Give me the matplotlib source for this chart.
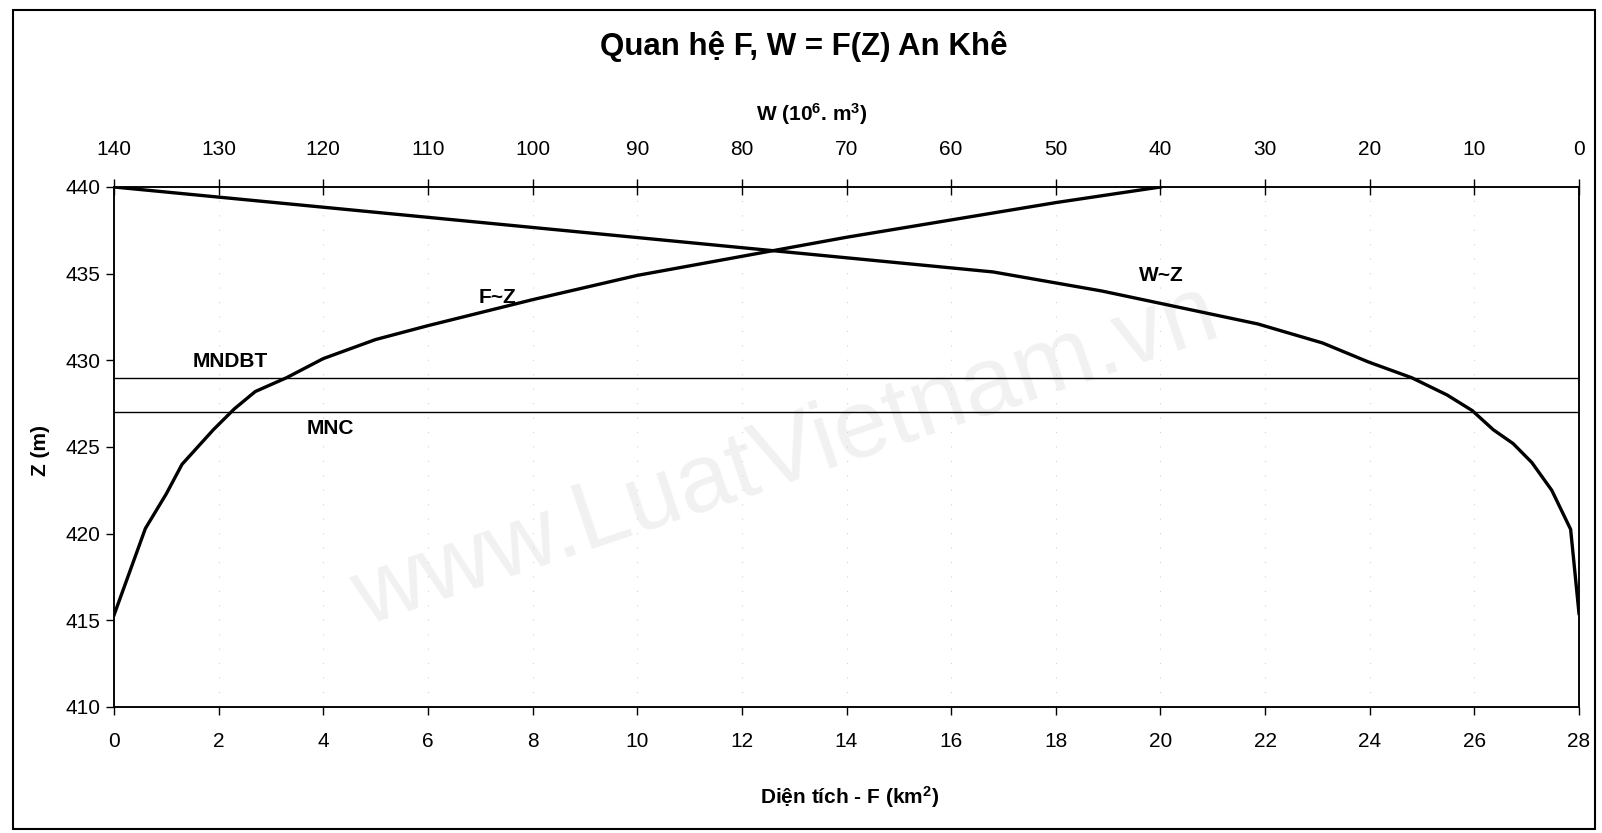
import matplotlib
matplotlib.use("Agg")
import matplotlib.pyplot as plt
from matplotlib.patches import Rectangle

plt.rcParams['font.family'] = ['Liberation Sans', 'DejaVu Sans']
plt.rcParams['mathtext.fontset'] = 'custom'
plt.rcParams['mathtext.bf'] = 'Liberation Sans:bold'
plt.rcParams['mathtext.rm'] = 'Liberation Sans:bold'
plt.rcParams['mathtext.default'] = 'bf'

# ---- data ----
# F ~ Z (area, km2 vs level, m)
F_area = [0.0, 0.3, 0.6, 1.0, 1.3, 1.9, 2.3, 2.7, 3.3, 4.0, 5.0, 6.0, 8.0, 10.0, 12.0, 14.0, 16.0, 18.0, 20.0]
Z_F = [415.3, 417.8, 420.3, 422.3, 424.0, 426.0, 427.2, 428.2, 429.0, 430.1, 431.2, 432.0, 433.5, 434.9, 436.0, 437.1, 438.1, 439.1, 440.0]
# W ~ Z (volume, 10^6 m3 vs level, m)
W_vol = [0.0, 0.8, 2.6, 4.5, 6.3, 8.2, 10.2, 12.6, 16.0, 20.1, 24.5, 30.7, 45.6, 56.0, 140.0]
Z_W = [415.4, 420.25, 422.5, 424.1, 425.2, 426.0, 427.1, 428.0, 429.0, 429.9, 431.0, 432.1, 434.0, 435.1, 440.0]
# characteristic levels
MNDBT = 429.0
MNC = 427.0

F_ticks = list(range(0, 29, 2))
Z_ticks = list(range(410, 441, 5))
W_ticks = list(range(0, 141, 10))

title = 'Quan hệ F, W = F(Z) An Khê'
xlabel_bottom = r'Diện tích - F (km$^{2}$)'
xlabel_top = r'W (10$^{6}$. m$^{3}$)'
ylabel = 'Z (m)'

# ---- figure ----
W_px, H_px = 1602, 833
fig = plt.figure(figsize=(W_px / 100, H_px / 100), dpi=100)
L, R, T, B = 114, 1579, 187, 707
ax = fig.add_axes([L / W_px, 1 - B / H_px, (R - L) / W_px, (B - T) / H_px])
ax.set_facecolor('none')

ax.set_xlim(0, 28)
ax.set_ylim(410, 440)
ax.set_xticks(F_ticks)
ax.set_yticks(Z_ticks)
ax.grid(axis='x', color='#d4d4d4', linestyle=(0, (1, 12)), lw=0.8)

ax2 = ax.twiny()
ax2.set_xlim(140, 0)
ax2.set_xticks(W_ticks)

for a in (ax, ax2):
    for s in a.spines.values():
        s.set_linewidth(1.1)
        s.set_color('black')

ax.tick_params(axis='x', direction='out', length=6, width=1, pad=12, labelsize=15)
ax.tick_params(axis='y', direction='out', length=6, width=1, pad=4, labelsize=15)
ax2.tick_params(axis='x', direction='inout', length=12, width=1, pad=14, labelsize=15)

# curves
ax.plot(F_area, Z_F, color='black', lw=2.4, solid_joinstyle='round', zorder=3)
ax2.plot(W_vol, Z_W, color='black', lw=2.4, solid_joinstyle='round', zorder=3)
ax.axhline(MNDBT, color='black', lw=1.0, zorder=2)
ax.axhline(MNC, color='black', lw=1.0, zorder=2)

# labels on chart
ax.text(7.33, 433.6, 'F~Z', fontsize=15, fontweight='bold', ha='center', va='center')
ax.text(20.02, 434.9, 'W~Z', fontsize=15, fontweight='bold', ha='center', va='center')
ax.text(2.23, 429.95, 'MNDBT', fontsize=15, fontweight='bold', ha='center', va='center')
ax.text(4.13, 426.05, 'MNC', fontsize=15, fontweight='bold', ha='center', va='center')

# watermark
ax.text(0.459, 0.481, 'www.LuatVietnam.vn', transform=ax.transAxes, fontsize=70,
        color='#f1f1f1', rotation=18.7, ha='center', va='center', zorder=0)

# titles / axis labels
fig.text(804 / W_px, 1 - 46 / H_px, title, ha='center', va='center', fontsize=22.5, fontweight='bold')
fig.text(812 / W_px, 1 - 114 / H_px, xlabel_top, ha='center', va='center', fontsize=15, fontweight='bold')
fig.text(850 / W_px, 1 - 797 / H_px, xlabel_bottom, ha='center', va='center', fontsize=15, fontweight='bold')
fig.text(41 / W_px, 1 - 450 / H_px, ylabel, ha='center', va='center', fontsize=15, fontweight='bold', rotation=90)

# outer frame
fig.patches.append(Rectangle((13 / W_px, 1 - 829 / H_px), (1595 - 13) / W_px, (829 - 10) / H_px,
                             transform=fig.transFigure, fill=False, lw=1.5, ec='black'))

fig.savefig('out.png', dpi=100)
